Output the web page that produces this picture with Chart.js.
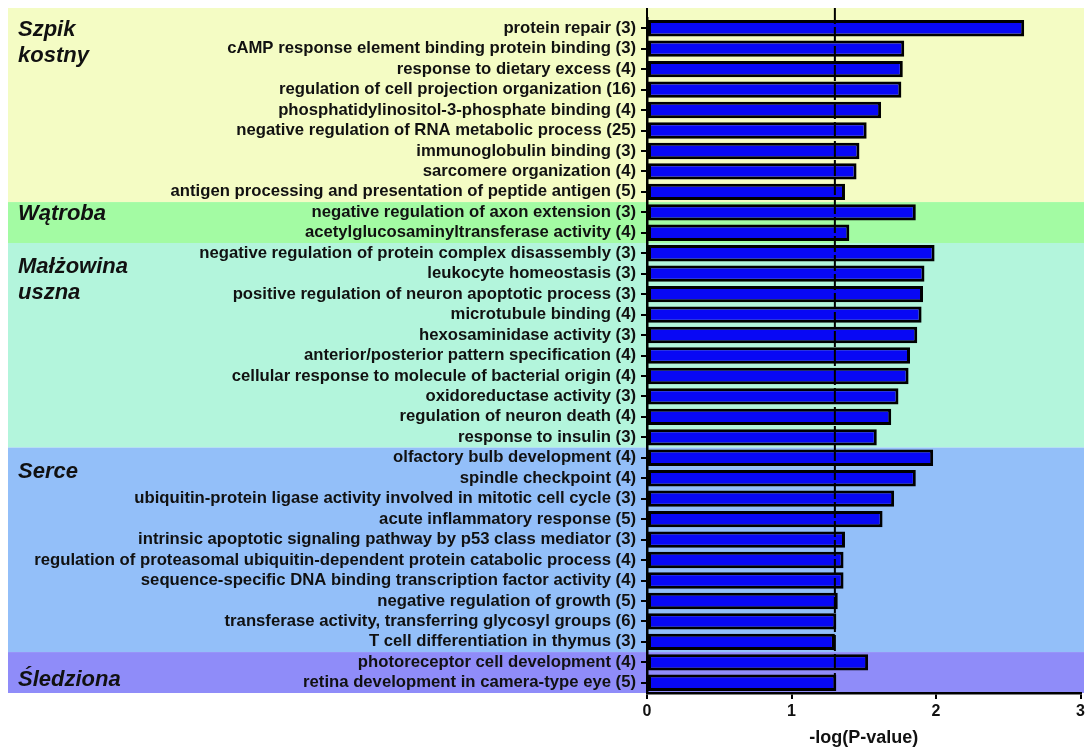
<!DOCTYPE html>
<html>
<head>
<meta charset="utf-8">
<script src="https://cdn.jsdelivr.net/npm/chart.js@4"></script>
<style>
  body { margin: 0; background: #fff; }
  #wrap { width: 1088px; height: 749px; }
</style>
</head>
<body>
<div id="wrap"><canvas id="goChart" width="1088" height="749"></canvas></div>
<script>
// GO terms, top to bottom
const categories = [
  'protein repair (3)',
  'cAMP response element binding protein binding (3)',
  'response to dietary excess (4)',
  'regulation of cell projection organization (16)',
  'phosphatidylinositol-3-phosphate binding (4)',
  'negative regulation of RNA metabolic process (25)',
  'immunoglobulin binding (3)',
  'sarcomere organization (4)',
  'antigen processing and presentation of peptide antigen (5)',
  'negative regulation of axon extension (3)',
  'acetylglucosaminyltransferase activity (4)',
  'negative regulation of protein complex disassembly (3)',
  'leukocyte homeostasis (3)',
  'positive regulation of neuron apoptotic process (3)',
  'microtubule binding (4)',
  'hexosaminidase activity (3)',
  'anterior/posterior pattern specification (4)',
  'cellular response to molecule of bacterial origin (4)',
  'oxidoreductase activity (3)',
  'regulation of neuron death (4)',
  'response to insulin (3)',
  'olfactory bulb development (4)',
  'spindle checkpoint (4)',
  'ubiquitin-protein ligase activity involved in mitotic cell cycle (3)',
  'acute inflammatory response (5)',
  'intrinsic apoptotic signaling pathway by p53 class mediator (3)',
  'regulation of proteasomal ubiquitin-dependent protein catabolic process (4)',
  'sequence-specific DNA binding transcription factor activity (4)',
  'negative regulation of growth (5)',
  'transferase activity, transferring glycosyl groups (6)',
  'T cell differentiation in thymus (3)',
  'photoreceptor cell development (4)',
  'retina development in camera-type eye (5)'
];

// -log(P-value) per term
const negLogP = [
  2.61, 1.78, 1.77, 1.76, 1.62, 1.52, 1.47, 1.45, 1.37,
  1.86, 1.40,
  1.99, 1.92, 1.91, 1.90, 1.87, 1.82, 1.81, 1.74, 1.69, 1.59,
  1.98, 1.86, 1.71, 1.63, 1.37, 1.36, 1.36, 1.32, 1.31, 1.30,
  1.53, 1.31
];

// tissue groups and how many terms each covers
const groupNames = [['Szpik', 'kostny'], ['Wątroba'], ['Małżowina', 'uszna'], ['Serce'], ['Śledziona']];
const groupSizes = [9, 2, 10, 10, 2];

const xTicks = [0, 1, 2, 3];
const threshold = 1.3; // -log(0.05)

// styling
const groupColors = ['#f4fcc4', '#a3fba3', '#b3f5dc', '#93bff9', '#8f8cf9'];
const groupLabelOffsets = [8, 8, 20, 20, 4]; // baseline offset from first row centre
const fontFamily = '"Liberation Sans", Arial, sans-serif';

const bandsPlugin = {
  id: 'bands',
  beforeDraw(chart) {
    const { ctx, chartArea, scales } = chart;
    const yScale = scales.y;
    const half = (yScale.getPixelForValue(1) - yScale.getPixelForValue(0)) / 2;
    ctx.save();
    let start = 0;
    groupSizes.forEach((size, i) => {
      let top = yScale.getPixelForValue(start) - half;
      let bottom = yScale.getPixelForValue(start + size - 1) + half;
      if (i === 0) top = 8;
      if (i === groupSizes.length - 1) bottom = chartArea.bottom;
      ctx.fillStyle = groupColors[i];
      ctx.fillRect(8, top, 1084 - 8, bottom - top);
      start += size;
    });
    ctx.restore();
  },
  afterDraw(chart) {
    const { ctx, chartArea, scales } = chart;
    const yScale = scales.y;
    const xScale = scales.x;
    ctx.save();

    // group labels
    ctx.fillStyle = '#111';
    ctx.font = `italic bold 22px ${fontFamily}`;
    ctx.textAlign = 'left';
    ctx.textBaseline = 'alphabetic';
    let start = 0;
    groupSizes.forEach((size, i) => {
      let y = yScale.getPixelForValue(start) + groupLabelOffsets[i];
      if (i === groupSizes.length - 1) {
        y = (yScale.getPixelForValue(start) + chartArea.bottom) / 2 + 8;
      }
      groupNames[i].forEach((line, j) => {
        ctx.fillText(line, 18, y + j * 26);
      });
      start += size;
    });

    // y axis line continues above the first row
    ctx.strokeStyle = '#000';
    ctx.lineWidth = 2;
    ctx.beginPath();
    ctx.moveTo(chartArea.left, 8);
    ctx.lineTo(chartArea.left, chartArea.top + 1);
    ctx.stroke();

    // significance line
    const x = xScale.getPixelForValue(threshold);
    ctx.lineWidth = 2;
    ctx.setLineDash([16, 3]);
    ctx.beginPath();
    ctx.moveTo(x, 8);
    ctx.lineTo(x, chartArea.bottom);
    ctx.stroke();
    ctx.restore();
  }
};

const ctx = document.getElementById('goChart').getContext('2d');
new Chart(ctx, {
  type: 'bar',
  data: {
    labels: categories,
    datasets: [{
      data: negLogP,
      backgroundColor: '#0808f5',
      borderColor: '#000',
      borderWidth: 3,
      borderSkipped: false,
      barPercentage: 0.8,
      categoryPercentage: 1
    }]
  },
  options: {
    indexAxis: 'y',
    responsive: false,
    animation: false,
    layout: {
      padding: { top: 18, right: 6, left: 0, bottom: 0 }
    },
    plugins: {
      legend: { display: false },
      tooltip: { enabled: false }
    },
    scales: {
      x: {
        min: 0,
        max: 3,
        afterBuildTicks: (scale) => {
          scale.ticks = xTicks.map(v => ({ value: v }));
        },
        afterFit: (scale) => { scale.height = 56; },
        border: { display: true, color: '#000', width: 2.5 },
        grid: { drawOnChartArea: false, color: '#000', lineWidth: 2, tickLength: 6 },
        ticks: {
          color: '#111',
          padding: 3,
          font: { family: fontFamily, size: 16, weight: 'bold' }
        },
        title: {
          display: true,
          text: '-log(P-value)',
          color: '#111',
          padding: { top: 6, bottom: 0 },
          font: { family: fontFamily, size: 18, weight: 'bold' }
        }
      },
      y: {
        afterFit: (scale) => { scale.width = 647; },
        border: { display: true, color: '#000', width: 2.5 },
        grid: { offset: false, drawOnChartArea: false, color: '#000', lineWidth: 2, tickLength: 6 },
        ticks: {
          autoSkip: false,
          color: '#111',
          padding: 5,
          font: { family: fontFamily, size: 16.7, weight: 'bold' }
        }
      }
    }
  },
  plugins: [bandsPlugin]
});
</script>
</body>
</html>
